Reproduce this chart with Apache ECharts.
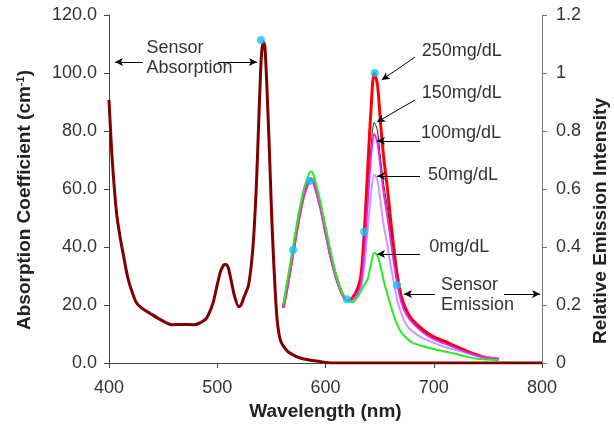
<!DOCTYPE html>
<html lang="en">

<head>
    <meta charset="UTF-8">
    <title>Sensor absorption and emission</title>
    <script src="https://cdn.jsdelivr.net/npm/echarts@6.0.0/dist/echarts.min.js"></script>
    <style>
        html, body {
            margin: 0;
            padding: 0;
            background: #fff;
        }

        #main {
            width: 614px;
            height: 426px;
        }
    </style>
</head>

<body>
    <div id="main"></div>

    <script>
        // absorption spectrum (left axis)
        const absWl = [400, 403, 407, 410, 413, 417, 420, 425, 430, 438, 445, 458, 466, 479, 485, 490, 496, 500, 503, 506,
            508, 510, 512, 516, 520, 522, 525, 529, 533, 536, 538, 540, 541, 542.5, 544, 545.6, 548, 550.2, 552, 554.8,
            557, 559.5, 565, 570, 576, 585, 595, 600, 610, 700, 800];
        const absVal = [90.7, 70, 51.6, 44, 37.8, 30, 26, 21, 19, 17.1, 15.5, 13.2, 13.3, 13.2, 14, 15.4, 20.6, 27, 31.5, 33.8,
            34, 33, 30, 23, 19.4, 20, 23, 27, 40, 60, 80, 100, 107, 110.8, 109, 97.6, 75, 51.6, 36, 17.1,
            10, 6.8, 4, 2.8, 1.8, 1, 0.5, 0.2, 0, 0, 0];

        // emission spectra (right axis)
        const emWl = [561, 565, 570, 575, 580, 585, 587, 590, 595, 600, 605, 610, 615,
            620, 625, 630, 633, 636, 639, 642, 645, 648, 651, 654, 657, 660, 663, 666, 670, 675, 680, 690, 700, 710, 720, 730, 740, 750, 760];
        const em250 = [0.19, 0.27, 0.38, 0.49, 0.58, 0.63, 0.635, 0.612, 0.545, 0.455, 0.365, 0.295, 0.243,
            0.215, 0.225, 0.26, 0.31, 0.46, 0.67, 0.87, 1.0, 0.96, 0.82, 0.70, 0.61, 0.50, 0.40, 0.31, 0.23, 0.18, 0.15, 0.115, 0.09, 0.075, 0.058, 0.042, 0.028, 0.018, 0.013];
        const em150 = [0.19, 0.27, 0.38, 0.49, 0.58, 0.63, 0.635, 0.61, 0.54, 0.45, 0.36, 0.29, 0.24,
            0.215, 0.222, 0.25, 0.29, 0.41, 0.58, 0.74, 0.83, 0.80, 0.70, 0.61, 0.54, 0.45, 0.37, 0.29, 0.22, 0.17, 0.145, 0.11, 0.085, 0.07, 0.055, 0.04, 0.026, 0.017, 0.012];
        const em100 = [0.19, 0.27, 0.38, 0.49, 0.58, 0.63, 0.635, 0.61, 0.54, 0.45, 0.36, 0.29, 0.24,
            0.215, 0.22, 0.245, 0.28, 0.39, 0.55, 0.71, 0.79, 0.76, 0.67, 0.58, 0.51, 0.43, 0.35, 0.28, 0.21, 0.165, 0.14, 0.105, 0.082, 0.067, 0.052, 0.038, 0.025, 0.018, 0.014];
        const em50 = [0.19, 0.27, 0.38, 0.49, 0.58, 0.63, 0.635, 0.61, 0.54, 0.45, 0.36, 0.29, 0.24,
            0.215, 0.218, 0.235, 0.26, 0.34, 0.46, 0.58, 0.65, 0.63, 0.55, 0.47, 0.41, 0.34, 0.28, 0.22, 0.17, 0.13, 0.11, 0.085, 0.07, 0.055, 0.045, 0.035, 0.024, 0.02, 0.018];
        const em0 = [0.2, 0.29, 0.40, 0.51, 0.60, 0.655, 0.66, 0.635, 0.56, 0.47, 0.38, 0.30, 0.245,
            0.215, 0.21, 0.23, 0.25, 0.27, 0.29, 0.34, 0.38, 0.37, 0.33, 0.28, 0.24, 0.2, 0.165, 0.135, 0.105, 0.085, 0.07, 0.058, 0.048, 0.04, 0.032, 0.022, 0.015, 0.012, 0.01];

        // cyan marker dots (wavelength, relative intensity)
        const dotWl = [540.3, 570.1, 585.5, 619.7, 635.7, 645.5, 666.1];
        const dotVal = [1.114, 0.39, 0.628, 0.22, 0.453, 1.0, 0.269];

        // annotation arrows in data coords (wavelength, absorption axis value)
        const arrows = [
            [[431.4, 103.8], [405.5, 103.8]],
            [[500.7, 103.8], [536.7, 103.8]],
            [[682.7, 105.5], [651.9, 97.6]],
            [[682.7, 90.7], [647.6, 83.1]],
            [[687.3, 76.6], [647.6, 76.6]],
            [[687.3, 64.5], [647.6, 64.5]],
            [[687.3, 37.6], [647.6, 37.6]],
            [[701.2, 23.8], [672.5, 23.8]],
            [[764.9, 23.8], [798.2, 23.8]]
        ];
        const noteText = ['Sensor\nAbsorption', '250mg/dL', '150mg/dL', '100mg/dL', '50mg/dL', '0mg/dL', 'Sensor\nEmission'];
        const notePos = [[434.7, 105], [688.9, 107.7], [688.9, 93.0], [688.2, 79.3], [694.7, 64.8], [695.9, 40.1], [706.7, 23.3]];

        const FONT = '"Liberation Sans", Arial, sans-serif';
        const zip = (xs, ys) => xs.map((x, i) => [x, ys[i]]);

        const chart = echarts.init(document.getElementById('main'));

        function emLine(name, data, color, width) {
            return {
                name: name,
                type: 'line',
                yAxisIndex: 1,
                data: zip(emWl, data),
                showSymbol: false,
                smooth: 0.3,
                lineStyle: { color: color, width: width },
                z: 3
            };
        }

        const option = {
            animation: false,
            grid: { left: 109, right: 72, top: 15, bottom: 63 },
            xAxis: {
                type: 'value',
                min: 400,
                max: 800,
                interval: 100,
                name: 'Wavelength (nm)',
                nameLocation: 'middle',
                nameGap: 37,
                nameTextStyle: { fontFamily: FONT, fontSize: 19, fontWeight: 'bold', color: '#222' },
                axisLine: { lineStyle: { color: '#444' } },
                axisTick: { length: 5, lineStyle: { color: '#444' } },
                axisLabel: { fontFamily: FONT, fontSize: 18, color: '#333', margin: 16 },
                splitLine: { show: false }
            },
            yAxis: [{
                type: 'value',
                min: 0,
                max: 120,
                interval: 20,
                axisLine: { show: true, lineStyle: { color: '#444' } },
                axisTick: { show: true, length: 5, lineStyle: { color: '#444' } },
                axisLabel: {
                    fontFamily: FONT, fontSize: 18, color: '#333', margin: 12,
                    formatter: v => v.toFixed(1)
                },
                splitLine: { show: false }
            }, {
                type: 'value',
                min: 0,
                max: 1.2,
                interval: 0.2,
                position: 'right',
                axisLine: { show: true, lineStyle: { color: '#777' } },
                axisTick: { show: true, length: 5, lineStyle: { color: '#777' } },
                axisLabel: {
                    fontFamily: FONT, fontSize: 18, color: '#333', margin: 14,
                    formatter: v => String(+v.toFixed(1))
                },
                splitLine: { show: false }
            }],
            series: [{
                name: 'Sensor Absorption',
                type: 'line',
                data: zip(absWl, absVal),
                showSymbol: false,
                smooth: 0.25,
                lineStyle: { color: '#800000', width: 3 },
                z: 2,
                markLine: {
                    silent: true,
                    symbol: ['none', 'arrow'],
                    symbolSize: [6, 8],
                    label: { show: false },
                    lineStyle: { color: '#000', width: 1, type: 'solid' },
                    data: arrows.map(a => [{ coord: a[0] }, { coord: a[1] }])
                }
            },
            emLine('250mg/dL', em250, '#ff0000', 3),
            emLine('50mg/dL', em50, '#cc99ff', 2),
            emLine('150mg/dL', em150, '#222222', 1),
            emLine('100mg/dL', em100, '#ee22ee', 2),
            emLine('0mg/dL', em0, '#22ee22', 2),
            {
                name: 'dots',
                type: 'scatter',
                yAxisIndex: 1,
                data: zip(dotWl, dotVal),
                symbolSize: 8,
                itemStyle: { color: '#12c6f3' },
                z: 5
            }]
        };

        chart.setOption(option);

        const toPx = p => chart.convertToPixel({ xAxisIndex: 0, yAxisIndex: 0 }, p);

        const graphics = noteText.map((t, i) => {
            const p = toPx(notePos[i]);
            return {
                type: 'text',
                x: p[0],
                y: p[1],
                style: {
                    text: t,
                    fontFamily: FONT,
                    fontSize: 18,
                    lineHeight: 20,
                    fill: '#333',
                    align: 'left',
                    verticalAlign: 'middle'
                }
            };
        });

        // rotated axis titles
        graphics.push({
            type: 'text',
            x: 25,
            y: 200,
            rotation: Math.PI / 2,
            style: {
                text: 'Absorption Coefficient (cm{sup|-1})',
                fontFamily: FONT,
                fontSize: 19,
                fontWeight: 'bold',
                fill: '#222',
                align: 'center',
                verticalAlign: 'middle',
                rich: {
                    sup: { fontFamily: FONT, fontSize: 11, fontWeight: 'bold', fill: '#222', verticalAlign: 'top', padding: [0, 0, 8, 0] }
                }
            }
        });
        graphics.push({
            type: 'text',
            x: 601,
            y: 221,
            rotation: Math.PI / 2,
            style: {
                text: 'Relative Emission Intensity',
                fontFamily: FONT,
                fontSize: 19,
                fontWeight: 'bold',
                fill: '#222',
                align: 'center',
                verticalAlign: 'middle'
            }
        });

        chart.setOption({ graphic: graphics });
    </script>
</body>
</html>
